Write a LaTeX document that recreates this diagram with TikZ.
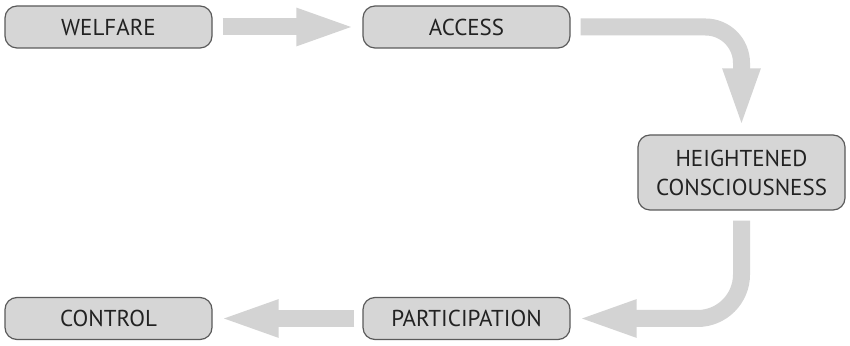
\documentclass[tikz,border=0pt]{standalone}
\usepackage{fontspec}
\setmainfont{PT Sans}
\usetikzlibrary{arrows.meta}
\definecolor{boxfill}{HTML}{D6D6D6}
\definecolor{boxline}{HTML}{5A5A5A}
\definecolor{flowgray}{HTML}{D3D3D3}
\definecolor{textgray}{HTML}{222222}

\begin{document}
\begin{tikzpicture}[x=0.5pt,y=-0.5pt,
  box/.style={draw=boxline,fill=boxfill,line width=0.6pt,rounded corners=6pt,
    minimum width=103.5pt,minimum height=21pt,align=center,text=textgray,
    font=\fontsize{11.5}{14.5}\selectfont,inner sep=0pt},
  flow/.style={draw=flowgray,line width=8.5pt,
    -{Triangle[length=30.5pt,width=16.5pt]},shorten <=5pt,shorten >=2.5pt}]
\useasboundingbox (0,0) rectangle (850,346);
\node[box] (welfare) at (108.5,27) {WELFARE};
\node[box] (access) at (466.5,27) {ACCESS};
\node[box,minimum height=37.5pt] (heightened) at (741.5,172.5) {HEIGHTENED\\CONSCIOUSNESS};
\node[box] (participation) at (466.5,318.5) {PARTICIPATION};
\node[box] (control) at (108.5,318.5) {CONTROL};
\draw[flow] (welfare) -- (access);
\draw[flow,rounded corners=18pt] (access.east) -| (heightened.north);
\draw[flow,rounded corners=22pt] (heightened.south) |- (participation.east);
\draw[flow,shorten <=4pt] (participation) -- (control);
\end{tikzpicture}
\end{document}
